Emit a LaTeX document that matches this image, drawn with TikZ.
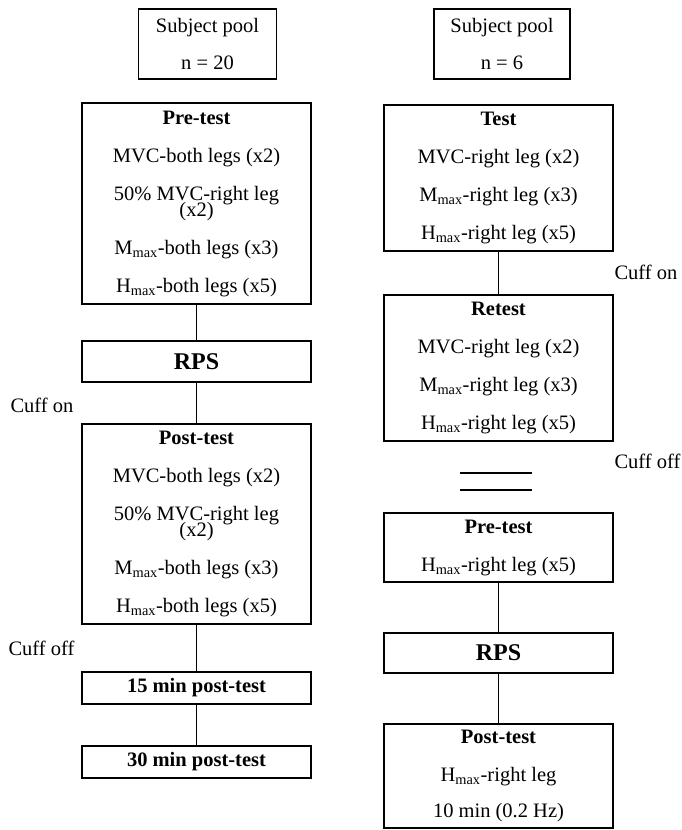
\documentclass[tikz,border=0pt]{standalone}
\usepackage{fontspec}
\setmainfont{Liberation Serif}
\usetikzlibrary{positioning}

\begin{document}
\begin{tikzpicture}[x=1pt, y=-1pt, line width=1.1pt,
    every node/.style={font=\fontsize{20.5}{24}\selectfont},
    stage/.style={draw, minimum width=229pt, inner sep=0pt, align=center},
    pool/.style={stage, minimum width=138pt, minimum height=70pt},
    big/.style={font=\fontsize{24}{28}\selectfont\bfseries},
    note/.style={anchor=west, inner sep=0pt}]

    \useasboundingbox (0,0) rectangle (682,830);

    % Left column (n = 20)
    \node[pool] (poolA) at (207.5,44) {Subject pool\\[13pt]n = 20};
    \node[stage, minimum height=201pt] (preA) at (196.5,203.5)
        {\textbf{Pre-test}\\[14pt]MVC-both legs (x2)\\[14pt]50\% MVC-right leg\\[-8pt](x2)\\[14pt]M\textsubscript{max}-both legs (x3)\\[14pt]H\textsubscript{max}-both legs (x5)};
    \node[stage, big, minimum height=41pt] (rpsA) [below of=preA, node distance=158pt] {RPS};
    \node[stage, minimum height=200pt] (postA) [below of=rpsA, node distance=162.5pt]
        {\textbf{Post-test}\\[14pt]MVC-both legs (x2)\\[14pt]50\% MVC-right leg\\[-8pt](x2)\\[14pt]M\textsubscript{max}-both legs (x3)\\[14pt]H\textsubscript{max}-both legs (x5)};
    \node[stage, minimum height=32pt] (minA) [below of=postA, node distance=164pt] {\textbf{15 min post-test}};
    \node[stage, minimum height=32pt] (minB) [below of=minA, node distance=74pt] {\textbf{30 min post-test}};

    \node[note] (onA) at (10,405) {Cuff on};
    \node[note] (offA) at (8,648) {Cuff off};

    % Right column (n = 6)
    \node[pool, minimum width=136pt] (poolB) at (502,44) {Subject pool\\[13pt]n = 6};
    \node[stage, minimum height=146pt] (testB) at (498.5,178)
        {\textbf{Test}\\[14pt]MVC-right leg (x2)\\[14pt]M\textsubscript{max}-right leg (x3)\\[14pt]H\textsubscript{max}-right leg (x5)};
    \node[stage, minimum height=146pt] (retestB) [below of=testB, node distance=190pt]
        {\textbf{Retest}\\[14pt]MVC-right leg (x2)\\[14pt]M\textsubscript{max}-right leg (x3)\\[14pt]H\textsubscript{max}-right leg (x5)};
    \node[stage, minimum height=69pt] (preB) [below of=retestB, node distance=179.5pt]
        {\textbf{Pre-test}\\[14pt]H\textsubscript{max}-right leg (x5)};
    \node[stage, big, minimum height=40pt] (rpsB) [below of=preB, node distance=105.5pt] {RPS};
    \node[stage, minimum height=104pt] (postB) [below of=rpsB, node distance=123pt]
        {\textbf{Post-test}\\[14pt]H\textsubscript{max}-right leg\\[12pt]10 min (0.2 Hz)};

    \node[note] (onB) at (614,272) {Cuff on};
    \node[note] (offB) at (614,461) {Cuff off};

    % Break between the two parts
    \coordinate (breakA1) at (460,473);
    \coordinate (breakA2) at (532,473);
    \coordinate (breakB1) at (460,490);
    \coordinate (breakB2) at (532,490);
    \draw (breakA1) -- (breakA2);
    \draw (breakB1) -- (breakB2);

    % Links
    \path[draw]
        (preA) edge (rpsA)
        (rpsA) edge (postA)
        (postA) edge (minA)
        (minA) edge (minB)
        (testB) edge (retestB)
        (preB) edge (rpsB)
        (rpsB) edge (postB);

\end{tikzpicture}
\end{document}
